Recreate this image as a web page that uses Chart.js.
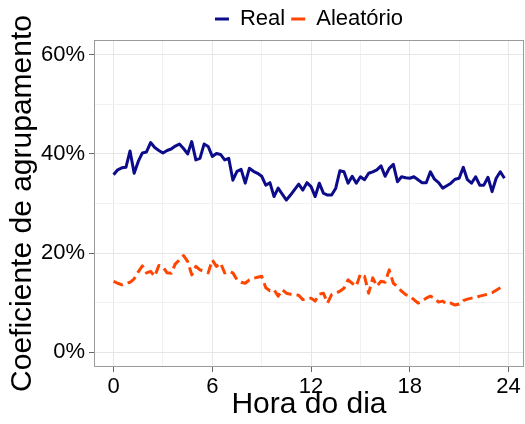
<!DOCTYPE html>
<html>
<head>
<meta charset="utf-8">
<script src="https://cdn.jsdelivr.net/npm/chart.js@4.4.0/dist/chart.umd.min.js"></script>
<style>
  html, body { margin: 0; padding: 0; background: #fff; }
</style>
</head>
<body>
<canvas id="myChart" width="525" height="424"></canvas>
<script>
// hora do dia, a cada 15 minutos
const hours = [
  0, 0.25, 0.5, 0.75, 1, 1.25, 1.5, 1.75, 2, 2.25, 2.5, 2.75,
  3, 3.25, 3.5, 3.75, 4, 4.25, 4.5, 4.75, 5, 5.25, 5.5, 5.75,
  6, 6.25, 6.5, 6.75, 7, 7.25, 7.5, 7.75, 8, 8.25, 8.5, 8.75,
  9, 9.25, 9.5, 9.75, 10, 10.25, 10.5, 10.75, 11, 11.25, 11.5, 11.75,
  12, 12.25, 12.5, 12.75, 13, 13.25, 13.5, 13.75, 14, 14.25, 14.5, 14.75,
  15, 15.25, 15.5, 15.75, 16, 16.25, 16.5, 16.75, 17, 17.25, 17.5, 17.75,
  18, 18.25, 18.5, 18.75, 19, 19.25, 19.5, 19.75, 20, 20.25, 20.5, 20.75,
  21, 21.25, 21.5, 21.75, 22, 22.25, 22.5, 22.75, 23, 23.25, 23.5, 23.75
];
const real = [
  35.8, 36.8, 37.2, 37.3, 40.6, 36.1, 38.5, 40.2, 40.4, 42.3, 41.3, 40.7,
  40.2, 40.7, 41.0, 41.6, 42.0, 41.1, 40.0, 42.5, 38.8, 39.1, 42.0, 41.5,
  39.5, 40.1, 39.9, 38.8, 39.1, 34.7, 36.5, 36.9, 34.1, 37.1, 36.5, 36.1,
  35.5, 33.7, 34.2, 31.4, 33.1, 31.9, 30.7, 31.7, 32.8, 33.9, 32.7, 34.2,
  33.4, 31.4, 34.1, 32.1, 31.7, 31.7, 33.1, 36.6, 36.4, 34.1, 35.5, 34.1,
  35.4, 34.8, 36.1, 36.4, 36.8, 37.6, 35.5, 37.1, 37.9, 34.4, 35.4, 35.2,
  35.1, 35.4, 34.8, 34.2, 34.2, 36.4, 34.9, 34.2, 33.1, 33.6, 34.1, 34.9,
  35.1, 37.3, 34.8, 34.1, 35.4, 33.7, 33.7, 35.3, 32.4, 35.1, 36.4, 35.1
];
const aleatorio = [
  14.3, 13.9, 13.6, 13.9, 14.1, 14.8, 16.2, 17.4, 16.0, 16.3, 15.3, 17.5,
  17.2, 16.0, 15.9, 17.8, 18.6, 19.5, 18.3, 15.6, 17.3, 16.6, 16.3, 16.0,
  18.6, 17.3, 18.0, 16.0, 16.3, 16.0, 14.6, 14.1, 13.9, 14.6, 14.9, 15.1,
  15.3, 13.0, 12.4, 12.6, 11.3, 12.6, 11.9, 11.7, 11.6, 11.5, 10.6, 10.7,
  10.9, 10.3, 11.7, 11.9, 9.9, 11.6, 11.9, 12.3, 12.9, 14.6, 13.9, 13.3,
  15.8, 15.3, 11.9, 15.0, 13.3, 14.3, 14.1, 16.6, 13.9, 13.2, 12.3, 11.6,
  11.3, 10.6, 9.9, 10.3, 10.9, 11.3, 10.9, 10.1, 10.3, 9.7, 9.9, 9.5,
  9.7, 10.4, 10.7, 10.9, 11.0, 11.3, 11.5, 11.7, 12.0, 12.5, 13.0, 13.4
];
const xTicks = [0, 6, 12, 18, 24];
const xMinor = [3, 9, 15, 21];
const yTicks = [0, 20, 40, 60];
const yMinor = [10, 30, 50];

const font = 'Liberation Sans, Arial, Helvetica, sans-serif';

// moldura do painel
const panelBorder = {
  id: 'panelBorder',
  afterDatasetsDraw(chart) {
    const a = chart.chartArea;
    const c = chart.ctx;
    c.save();
    c.strokeStyle = '#9a9a9a';
    c.lineWidth = 1;
    c.strokeRect(a.left + 0.5, a.top + 0.5, a.right - a.left - 1, a.bottom - a.top - 1);
    c.restore();
  }
};

const ctx = document.getElementById('myChart').getContext('2d');
const chart = new Chart(ctx, {
  type: 'line',
  data: {
    datasets: [
      {
        label: 'Real',
        data: hours.map((h, i) => ({ x: h, y: real[i] })),
        borderColor: '#0c0c8a',
        backgroundColor: '#0c0c8a',
        borderWidth: 3,
        pointRadius: 0,
        tension: 0,
        borderJoinStyle: 'round'
      },
      {
        label: 'Aleatório',
        data: hours.map((h, i) => ({ x: h, y: aleatorio[i] })),
        borderColor: '#ff4500',
        backgroundColor: '#ff4500',
        borderWidth: 3,
        borderDash: [10, 5],
        pointRadius: 0,
        tension: 0,
        borderJoinStyle: 'round'
      }
    ]
  },
  options: {
    responsive: false,
    animation: false,
    devicePixelRatio: 1,
    layout: { padding: { left: 0, right: 1, top: 2, bottom: 0 } },
    plugins: {
      tooltip: { enabled: false },
      legend: {
        position: 'top',
        fullSize: false,
        labels: {
          usePointStyle: true,
          pointStyle: 'line',
          pointStyleWidth: 14,
          color: '#000',
          padding: 6,
          font: { family: font, size: 22 }
        }
      }
    },
    scales: {
      x: {
        type: 'linear',
        min: -1.19,
        max: 24.94,
        afterBuildTicks: s => { s.ticks = xTicks.concat(xMinor).sort((a, b) => a - b).map(v => ({ value: v })); },
        afterFit: s => { s.height = 57; },
        ticks: {
          autoSkip: false,
          maxRotation: 0,
          padding: 2,
          color: '#000',
          font: { family: font, size: 22 },
          callback: v => xTicks.includes(v) ? String(v) : ''
        },
        grid: {
          color: c => xTicks.includes(c.tick.value) ? '#e6e6e6' : '#f1f1f1',
          tickColor: c => xTicks.includes(c.tick.value) ? '#666' : 'rgba(0,0,0,0)',
          tickLength: 5,
          lineWidth: 1
        },
        border: { display: false },
        title: {
          display: true,
          text: 'Hora do dia',
          color: '#000',
          font: { family: font, size: 30 },
          padding: { top: 0, bottom: 1 }
        }
      },
      y: {
        min: -3,
        max: 63,
        afterBuildTicks: s => { s.ticks = yTicks.concat(yMinor).sort((a, b) => a - b).map(v => ({ value: v })); },
        afterFit: s => { s.width = 94; },
        ticks: {
          autoSkip: false,
          padding: 4,
          color: '#000',
          font: { family: font, size: 22 },
          callback: v => yTicks.includes(v) ? v + '%' : ''
        },
        grid: {
          color: c => yTicks.includes(c.tick.value) ? '#e6e6e6' : '#f1f1f1',
          tickColor: c => yTicks.includes(c.tick.value) ? '#666' : 'rgba(0,0,0,0)',
          tickLength: 5,
          lineWidth: 1
        },
        border: { display: false },
        title: {
          display: true,
          text: 'Coeficiente de agrupamento',
          color: '#000',
          font: { family: font, size: 30 },
          padding: { top: 5, bottom: 0 }
        }
      }
    }
  },
  plugins: [panelBorder]
});
</script>
</body>
</html>
